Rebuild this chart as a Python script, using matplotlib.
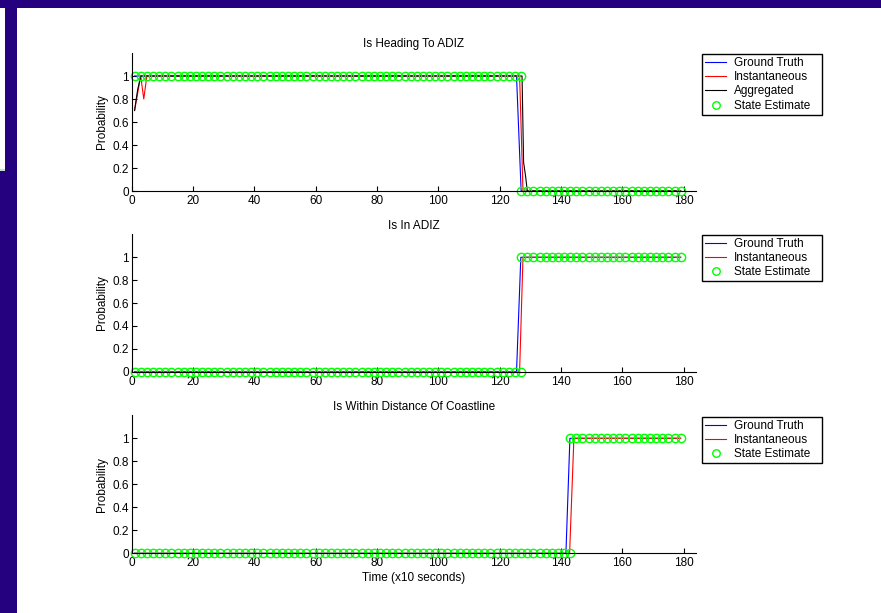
import numpy as np
import matplotlib
matplotlib.use("Agg")
import matplotlib.pyplot as plt
from matplotlib.patches import Rectangle

plt.rcParams['font.family'] = ['Liberation Sans', 'DejaVu Sans']
plt.rcParams['font.size'] = 8

# ---------------- data ----------------
titles = ["Is Heading To ADIZ", "Is In ADIZ", "Is Within Distance Of Coastline"]
ytick_vals = [0, 0.2, 0.4, 0.6, 0.8, 1]
ytick_labels = ["0", "0.2", "0.4", "0.6", "0.8", "1"]
xtick_vals = [0, 20, 40, 60, 80, 100, 120, 140, 160, 180]

# Is Heading To ADIZ
gt1_t = [1, 125.5, 127, 179]
gt1_v = [1, 1, 0, 0]
inst1_t = [1, 2, 3, 4, 5, 126.5, 127.6, 179]
inst1_v = [0.7, 0.85, 1.0, 0.8, 1.0, 1.0, 0.0, 0.0]
agg1_t = [1, 2, 3, 127.3, 127.8, 128.5, 129, 179]
agg1_v = [0.7, 0.88, 1.0, 1.0, 0.25, 0.12, 0.0, 0.0]
est1_t = list(range(1, 128, 2)) + list(range(127, 180, 2))
est1_v = [1] * 64 + [0] * 27

# Is In ADIZ
gt2_t = [1, 125.5, 126.9, 179]
gt2_v = [0, 0, 1, 1]
inst2_t = [1, 126.5, 127.6, 179]
inst2_v = [0, 0, 1, 1]
est2_t = list(range(1, 128, 2)) + list(range(127, 180, 2))
est2_v = [0] * 64 + [1] * 27

# Is Within Distance Of Coastline
gt3_t = [1, 141.6, 142.9, 179]
gt3_v = [0, 0, 1, 1]
inst3_t = [1, 142.8, 144.2, 179]
inst3_v = [0, 0, 1, 1]
est3_t = list(range(1, 144, 2)) + list(range(143, 180, 2))
est3_v = [0] * 72 + [1] * 19

# ---------------- figure ----------------
W, H = 881, 613
fig = plt.figure(figsize=(W / 100, H / 100), dpi=100)
fig.patch.set_facecolor('white')

navy = '#25007F'
def frect(x0, y0, x1, y1, color):
    fig.patches.append(Rectangle((x0 / W, 1 - y1 / H), (x1 - x0) / W, (y1 - y0) / H,
                                 transform=fig.transFigure, facecolor=color,
                                 edgecolor='none', zorder=-10))
frect(0, 0, W, 7.5, navy)
frect(0, 0, 17, H, navy)
frect(0, 7.5, 5, 170, 'white')
frect(0, 169, 5, 170.5, '#BFE3CF')

left = 131.5 / W
width = 564.5 / W
ax_rows = [(53, 191), (234.4, 371.7), (415.3, 553.3)]
legend_boxes = [(702.3, 54), (702.3, 235), (702.3, 416.7)]

series = [
    [(gt1_t, gt1_v, 'Ground Truth', '#0000FF'),
     (inst1_t, inst1_v, 'Instantaneous', '#FF0000'),
     (agg1_t, agg1_v, 'Aggregated', '#000000')],
    [(gt2_t, gt2_v, 'Ground Truth', '#0000FF'),
     (inst2_t, inst2_v, 'Instantaneous', '#FF0000')],
    [(gt3_t, gt3_v, 'Ground Truth', '#0000FF'),
     (inst3_t, inst3_v, 'Instantaneous', '#FF0000')],
]
estimates = [(est1_t, est1_v), (est2_t, est2_v), (est3_t, est3_v)]

for i, (top, bot) in enumerate(ax_rows):
    ax = fig.add_axes([left, 1 - bot / H, width, (bot - top) / H])
    for t, v, lab, col in series[i]:
        ax.plot(t, v, color=col, lw=0.8, label=lab)
    et, ev = estimates[i]
    ax.plot(et, ev, linestyle='none', marker='o', markersize=6,
            markerfacecolor='none', markeredgecolor='#00FF00',
            markeredgewidth=1.0, label='State Estimate', clip_on=False)
    ax.set_xlim(0, 184)
    ax.set_ylim(0, 1.2)
    ax.set_xticks(xtick_vals)
    ax.set_xticklabels([str(x) for x in xtick_vals])
    ax.set_yticks(ytick_vals)
    ax.set_yticklabels(ytick_labels)
    for s in ['top', 'right']:
        ax.spines[s].set_visible(False)
    for s in ['left', 'bottom']:
        ax.spines[s].set_linewidth(0.8)
    ax.tick_params(direction='in', length=3.6, width=0.8, labelsize=8.5)
    ax.tick_params(axis='x', pad=3)
    ax.tick_params(axis='y', pad=2)
    ax.set_ylabel('Probability', fontsize=8.5, labelpad=3)
    ax.set_title(titles[i], fontsize=8.5, pad=4)
    if i == 2:
        ax.set_xlabel('Time (x10 seconds)', fontsize=8.5, labelpad=2)

    lx, ly = legend_boxes[i]
    n = len(series[i]) + 1
    hbox = 14.3 * n + 4
    leg = ax.legend(loc='upper left',
                    bbox_to_anchor=(lx / W, 1 - (ly + hbox) / H, 119.4 / W, hbox / H),
                    bbox_transform=fig.transFigure, mode='expand',
                    borderaxespad=0, fontsize=8.5, frameon=True, fancybox=False,
                    edgecolor='black', framealpha=1, numpoints=1,
                    handlelength=1.75, handletextpad=0.65, labelspacing=0.19,
                    borderpad=0.25, markerscale=0.9)
    leg.get_frame().set_linewidth(1.0)

fig.savefig('out.png', dpi=100, facecolor=fig.get_facecolor())
